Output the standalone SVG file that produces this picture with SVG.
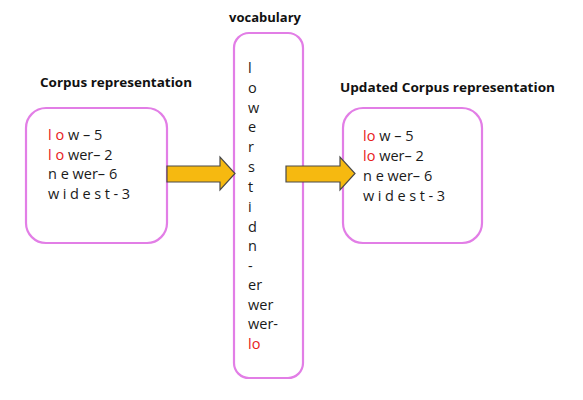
<svg xmlns="http://www.w3.org/2000/svg" width="583" height="400" viewBox="0 0 583 400">
<style>
.box{fill:#fff;stroke:#e27ee6;stroke-width:2.2}
.arrow{fill:#f6b910;stroke:#4a4a4a;stroke-width:1.2;stroke-linejoin:miter}
.title{font-family:"Open Sans","Liberation Sans",sans-serif;font-weight:bold;font-size:13px;fill:#111}
.t{font-family:"Open Sans","Liberation Sans",sans-serif;font-size:14.5px;fill:#1a1a1a}
.r{fill:#e8201c}
</style>
<rect width="583" height="400" fill="#fff"/>
<text class="title" x="40" y="87" textLength="152" lengthAdjust="spacingAndGlyphs">Corpus representation</text>
<text class="title" x="265" y="22" text-anchor="middle">vocabulary</text>
<text class="title" x="340" y="92" textLength="215" lengthAdjust="spacingAndGlyphs">Updated Corpus representation</text>

<g id="corpus">
<rect class="box" x="26" y="108" width="141" height="135" rx="20"/>
<text class="t" x="48" y="140"><tspan class="r">l o</tspan> w – 5</text>
<text class="t" x="48" y="159.5"><tspan class="r">l o</tspan> wer– 2</text>
<text class="t" x="48" y="179">n e wer– 6</text>
<text class="t" x="48" y="199" textLength="82">w i d e s t - 3</text>
</g>

<g id="vocabulary">
<rect class="box" x="234" y="33" width="69" height="345" rx="15"/>
<text class="t" x="248" y="73">l</text>
<text class="t" x="248" y="93">o</text>
<text class="t" x="248" y="113">w</text>
<text class="t" x="248" y="132">e</text>
<text class="t" x="248" y="152">r</text>
<text class="t" x="248" y="172">s</text>
<text class="t" x="248" y="192">t</text>
<text class="t" x="248" y="212">i</text>
<text class="t" x="248" y="232">d</text>
<text class="t" x="248" y="251">n</text>
<text class="t" x="248" y="271">-</text>
<text class="t" x="248" y="290">er</text>
<text class="t" x="248" y="310">wer</text>
<text class="t" x="248" y="329">wer-</text>
<text class="t r" x="248" y="349">lo</text>
</g>

<g id="updated">
<rect class="box" x="343" y="108" width="139" height="135" rx="20"/>
<text class="t" x="363" y="141"><tspan class="r">lo</tspan> w – 5</text>
<text class="t" x="363" y="161"><tspan class="r">lo</tspan> wer– 2</text>
<text class="t" x="363" y="181">n e wer– 6</text>
<text class="t" x="363" y="201" textLength="82">w i d e s t - 3</text>
</g>

<g id="connectors">
<path class="arrow" d="M167,166 H220 V157 L235,173.5 L220,190 V182 H167 Z"/>
<path class="arrow" d="M286,166 H340 V157 L355,173.5 L340,190 V182 H286 Z"/>
</g>
</svg>
